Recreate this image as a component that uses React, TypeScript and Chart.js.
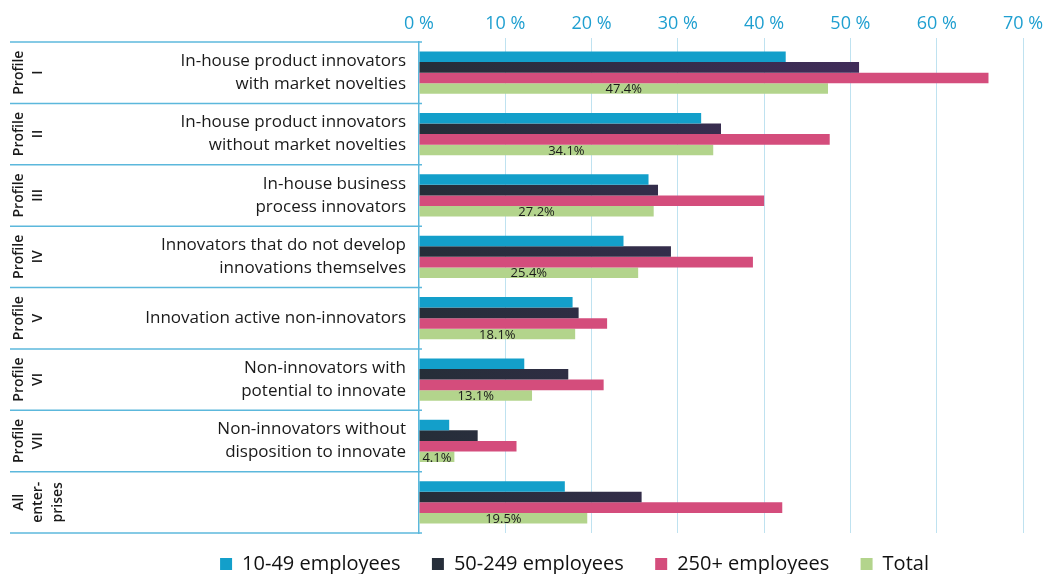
import React, { useEffect, useRef } from "react";
import { Chart, registerables } from "chart.js";

Chart.register(...registerables);

const profileTags: string[][] = [
  ["Profile", "I"],
  ["Profile", "II"],
  ["Profile", "III"],
  ["Profile", "IV"],
  ["Profile", "V"],
  ["Profile", "VI"],
  ["Profile", "VII"],
  ["All", "enter-", "prises"],
];

const categories: string[][] = [
  ["In-house product innovators", "with market novelties"],
  ["In-house product innovators", "without market novelties"],
  ["In-house business", "process innovators"],
  ["Innovators that do not develop", "innovations themselves"],
  ["Innovation active non-innovators"],
  ["Non-innovators with", "potential to innovate"],
  ["Non-innovators without", "disposition to innovate"],
  [""],
];

const seriesNames = ["10-49 employees", "50-249 employees", "250+ employees", "Total"];

const small = [42.5, 32.7, 26.6, 23.7, 17.8, 12.2, 3.5, 16.9];
const medium = [51.0, 35.0, 27.7, 29.2, 18.5, 17.3, 6.8, 25.8];
const large = [66.0, 47.6, 40.0, 38.7, 21.8, 21.4, 11.3, 42.1];
const total = [47.4, 34.1, 27.2, 25.4, 18.1, 13.1, 4.1, 19.5];

const xMin = 0;
const xMax = 70;
const xStep = 10;

const FONT = '"Open Sans", sans-serif';
const LINE_BLUE = "#5cb8dc";

const tablePlugin = {
  id: "tablePlugin",
  afterDraw(chart: any) {
    const ctx = chart.ctx;
    const y = chart.scales.y;
    const left = chart.chartArea.left;
    const n = categories.length;
    const bounds: number[] = [];
    for (let i = 0; i <= n; i++) {
      if (i === 0) bounds.push(y.top);
      else if (i === n) bounds.push(y.bottom);
      else bounds.push((y.getPixelForTick(i - 1) + y.getPixelForTick(i)) / 2);
    }
    ctx.save();
    ctx.strokeStyle = LINE_BLUE;
    ctx.lineWidth = 1.5;
    bounds.forEach((b) => {
      ctx.beginPath();
      ctx.moveTo(10, b);
      ctx.lineTo(left + 3, b);
      ctx.stroke();
    });
    ctx.fillStyle = "#1a1a1a";
    ctx.font = `600 14px ${FONT}`;
    ctx.textAlign = "center";
    ctx.textBaseline = "middle";
    profileTags.forEach((tag, i) => {
      const cy = y.getPixelForTick(i);
      tag.forEach((t, j) => {
        ctx.save();
        ctx.translate(19 + j * 19.5, cy);
        ctx.rotate(-Math.PI / 2);
        ctx.fillText(t, 0, 0);
        ctx.restore();
      });
    });
    ctx.restore();
  },
  afterDatasetsDraw(chart: any) {
    const ctx = chart.ctx;
    const meta = chart.getDatasetMeta(3);
    ctx.save();
    ctx.font = `500 13px ${FONT}`;
    ctx.fillStyle = "#1a1a1a";
    ctx.textAlign = "center";
    ctx.textBaseline = "middle";
    meta.data.forEach((el: any, i: number) => {
      const p = el.getProps(["x", "base", "y"], true);
      ctx.fillText(total[i].toFixed(1) + "%", (p.x + p.base) / 2, p.y + 1);
    });
    ctx.restore();
  },
};

export default function App() {
  const ref = useRef<HTMLCanvasElement | null>(null);
  useEffect(() => {
    if (!ref.current) return;
    Chart.defaults.font.family = FONT;
    const darkFill = (c: any) => {
      const chart = c.chart;
      if (!chart.chartArea || !chart.scales.x) return "#2f2f48";
      const x = chart.scales.x;
      const g = chart.ctx.createLinearGradient(x.getPixelForValue(0), 0, x.getPixelForValue(52), 0);
      g.addColorStop(0, "#252e38");
      g.addColorStop(1, "#412c5a");
      return g;
    };
    const chart = new Chart(ref.current, {
      type: "bar",
      data: {
        labels: categories as any,
        datasets: [
          { label: seriesNames[0], data: small, backgroundColor: "#139fca" },
          { label: seriesNames[1], data: medium, backgroundColor: darkFill as any },
          { label: seriesNames[2], data: large, backgroundColor: "#d44d7c" },
          { label: seriesNames[3], data: total, backgroundColor: "#b3d48c" },
        ],
      },
      options: {
        indexAxis: "y",
        animation: false,
        responsive: true,
        maintainAspectRatio: false,
        layout: { padding: { left: 126, right: 26, top: 0, bottom: -10 } },
        datasets: { bar: { barPercentage: 1, categoryPercentage: 0.69 } },
        scales: {
          x: {
            position: "top",
            min: xMin,
            max: xMax,
            ticks: {
              stepSize: xStep,
              callback: (v: any) => v + " %",
              color: "#1f9fd0",
              font: { size: 18, family: FONT },
              padding: 3,
            },
            grid: {
              color: (c: any) => (c.index === 0 ? "rgba(0,0,0,0)" : "#bfe2f0"),
              lineWidth: 1,
              drawTicks: true,
              tickLength: 4,
            },
            border: { display: false },
            afterFit: (s: any) => {
              s.height = 42;
            },
          },
          y: {
            grid: { display: false },
            border: { display: true, color: LINE_BLUE, width: 1.5 },
            ticks: {
              color: "#1a1a1a",
              font: { size: 17, weight: "500" as any, family: FONT, lineHeight: 1.35 },
              padding: 5,
            },
            afterFit: (s: any) => {
              s.width = 419 - 126;
            },
          },
        },
        plugins: {
          legend: {
            position: "bottom",
            labels: {
              boxWidth: 12,
              boxHeight: 12,
              padding: 21,
              color: "#111",
              font: { size: 20, family: FONT },
              generateLabels: (ch: any) => {
                const items = (Chart.defaults.plugins.legend.labels as any).generateLabels(ch);
                return items.map((it: any, i: number) => ({
                  ...it,
                  text: i < items.length - 1 ? it.text + "  " : it.text,
                }));
              },
            },
          },
          tooltip: { enabled: false },
        },
      },
      plugins: [tablePlugin],
    });
    return () => chart.destroy();
  }, []);
  return (
    <div style={{ position: "fixed", left: 0, top: 0, width: 1049, height: 574 }}>
      <canvas ref={ref} />
    </div>
  );
}
